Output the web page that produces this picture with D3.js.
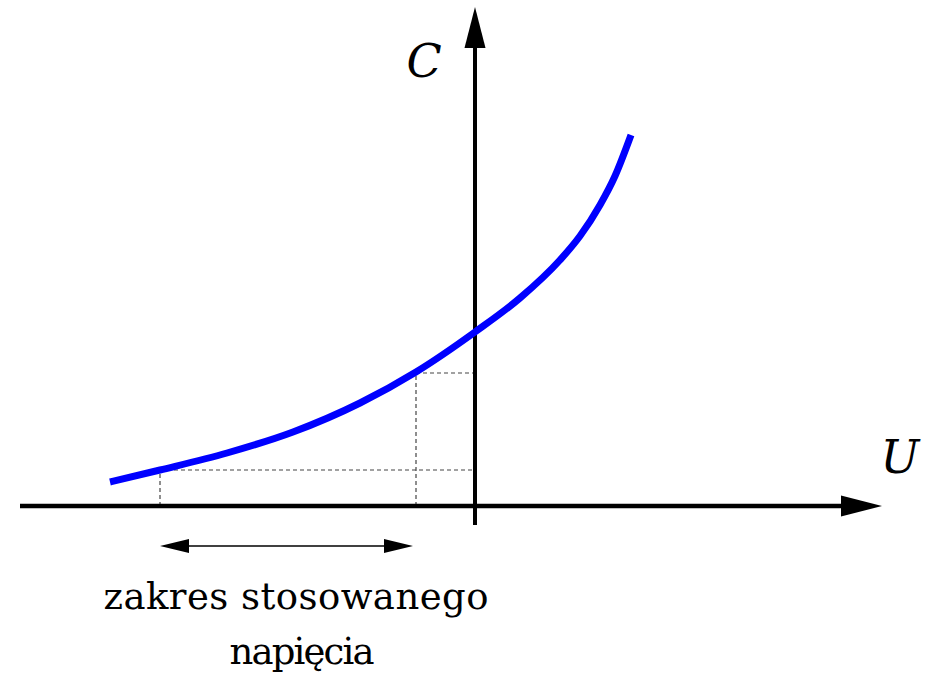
<!DOCTYPE html>
<html>
<head>
<meta charset="utf-8">
<script src="https://cdn.jsdelivr.net/npm/d3@7"></script>
<style>
  html, body { margin: 0; padding: 0; background: #fff; }
  svg { display: block; }
</style>
</head>
<body>
<svg id="chart" width="928" height="673"></svg>
<script>
// ---- data (arbitrary units) ----
const curveU = [-7.3, -6.3, -4.96, -3.64, -2.3, -1.18, 0, 0.9, 1.7, 2.1, 2.5, 2.8, 3.12];
const curveC = [0.48, 0.72, 1.06, 1.48, 2.06, 2.68, 3.48, 4.16, 4.92, 5.4, 6.02, 6.6, 7.42];
const rangeU = [-6.3, -1.18];           // zakres stosowanego napięcia
const rangeC = [0.72, 2.66];            // capacitance at range ends
const axisUExtent = [-9.1, 8.14];
const axisCExtent = [-0.38, 9.98];
const labelU = "U";
const labelC = "C";
const captionLines = ["zakres stosowanego", "napięcia"];

// ---- scales ----
const svg = d3.select("#chart");
const x = d3.scaleLinear().domain([-9.1, 8.14]).range([20, 882]);
const y = d3.scaleLinear().domain([0, 10]).range([506, 6]);

const arrowLen = 41, arrowHalf = 10.5;

// dashed guide lines
const guides = svg.append("g")
  .attr("stroke", "#444").attr("stroke-width", 1.2)
  .attr("stroke-dasharray", "4,3").attr("fill", "none");
rangeU.forEach((u, i) => {
  guides.append("line")
    .attr("x1", x(u)).attr("x2", x(u))
    .attr("y1", y(0)).attr("y2", y(rangeC[i]));
  guides.append("line")
    .attr("x1", x(u)).attr("x2", x(0))
    .attr("y1", y(rangeC[i])).attr("y2", y(rangeC[i]));
});

// axes
const axes = svg.append("g");
axes.append("line")
  .attr("x1", x(axisUExtent[0])).attr("x2", x(axisUExtent[1]) - arrowLen + 2)
  .attr("y1", y(0)).attr("y2", y(0))
  .attr("stroke", "#000").attr("stroke-width", 4.5);
axes.append("path")
  .attr("d", (() => {
    const tx = x(axisUExtent[1]), ty = y(0);
    return `M${tx},${ty} L${tx - arrowLen},${ty - arrowHalf} L${tx - arrowLen},${ty + arrowHalf} Z`;
  })())
  .attr("fill", "#000");
axes.append("line")
  .attr("x1", x(0)).attr("x2", x(0))
  .attr("y1", y(axisCExtent[0])).attr("y2", y(axisCExtent[1]) + arrowLen - 2)
  .attr("stroke", "#000").attr("stroke-width", 4);
axes.append("path")
  .attr("d", (() => {
    const tx = x(0), ty = y(axisCExtent[1]);
    return `M${tx},${ty} L${tx - arrowHalf},${ty + arrowLen} L${tx + arrowHalf},${ty + arrowLen} Z`;
  })())
  .attr("fill", "#000");

// curve
const pts = curveU.map((u, i) => [u, curveC[i]]);
const line = d3.line()
  .x(d => x(d[0])).y(d => y(d[1]))
  .curve(d3.curveMonotoneX);
svg.append("path")
  .datum(pts)
  .attr("d", line)
  .attr("fill", "none")
  .attr("stroke", "#0000ff")
  .attr("stroke-width", 7)
  .attr("stroke-linecap", "butt");

// range double arrow
const ay = 546, aLen = 29, aHalf = 7;
const xa = x(rangeU[0]), xb = x(rangeU[1]) - 3;
svg.append("line")
  .attr("x1", xa + aLen - 2).attr("x2", xb - aLen + 2)
  .attr("y1", ay).attr("y2", ay)
  .attr("stroke", "#000").attr("stroke-width", 1.5);
svg.append("path")
  .attr("d", `M${xa},${ay} L${xa + aLen},${ay - aHalf} L${xa + aLen},${ay + aHalf} Z`)
  .attr("fill", "#000");
svg.append("path")
  .attr("d", `M${xb},${ay} L${xb - aLen},${ay - aHalf} L${xb - aLen},${ay + aHalf} Z`)
  .attr("fill", "#000");

// axis labels
svg.append("text")
  .attr("x", 424).attr("y", 77)
  .attr("text-anchor", "middle")
  .attr("font-family", "DejaVu Serif")
  .attr("font-style", "italic")
  .attr("font-size", 46)
  .text(labelC);
svg.append("text")
  .attr("x", 900).attr("y", 473)
  .attr("text-anchor", "middle")
  .attr("font-family", "DejaVu Serif")
  .attr("font-style", "italic")
  .attr("font-size", 46)
  .text(labelU);

// caption
const capWidths = [385, 145];
const capCenters = [296, 302];
const capBase = [609, 664];
captionLines.forEach((t, i) => {
  const el = svg.append("text")
    .attr("x", capCenters[i]).attr("y", capBase[i])
    .attr("text-anchor", "middle")
    .attr("font-family", "DejaVu Serif")
    .attr("font-size", 37)
    .attr("fill", "#000")
    .text(t);
  const w = el.node().getComputedTextLength();
  const n = t.length;
  const ls = (capWidths[i] - w) / (n - 1);
  el.attr("letter-spacing", ls.toFixed(2));
  el.attr("x", capCenters[i] + ls / 2);
});
</script>
</body>
</html>
